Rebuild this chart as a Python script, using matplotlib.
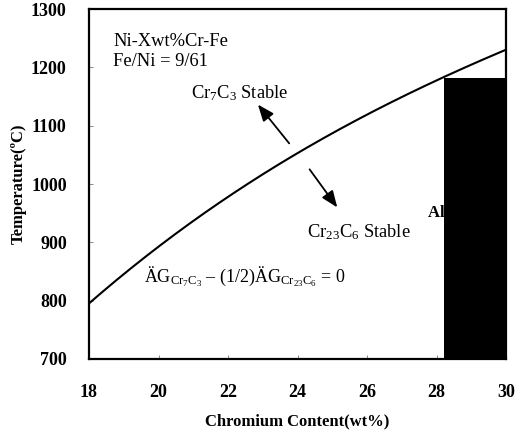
import matplotlib
matplotlib.use("Agg")
import matplotlib.pyplot as plt
import numpy as np

plt.rcParams['font.family'] = ['Liberation Serif', 'DejaVu Serif']
plt.rcParams['mathtext.fontset'] = 'custom'
plt.rcParams['mathtext.rm'] = 'Liberation Serif'
plt.rcParams['mathtext.it'] = 'Liberation Serif'
plt.rcParams['mathtext.bf'] = 'Liberation Serif:bold'

# Equilibrium boundary between Cr7C3 and Cr23C6
chromium = [18, 20, 22, 24, 26, 28, 30]
temperature = [795, 893, 978, 1053, 1118, 1179, 1230]

# Alloy composition band (shaded)
alloy_cr = [28.2, 30.0]
alloy_top = 1181

x_ticks = [18, 20, 22, 24, 26, 28, 30]
y_ticks = [700, 800, 900, 1000, 1100, 1200, 1300]

fig = plt.figure(figsize=(5.25, 4.33), dpi=100)
ax = fig.add_axes([0.1695, 0.171, 0.7945, 0.808])

# smooth the boundary through the read points
xs = np.linspace(18, 30, 200)
coef = np.polyfit(chromium, temperature, 3)
ax.plot(xs, np.polyval(coef, xs), color='black', lw=1.5, zorder=3)

ax.text(27.75, 950, 'Alloy 690', fontsize=12, fontweight='bold',
        va='center', ha='left', zorder=2)
ax.fill_between(alloy_cr, 700, alloy_top, color='black', lw=0, zorder=4)

ax.set_xlim(18, 30)
ax.set_ylim(700, 1300)
ax.set_xticks(x_ticks)
ax.set_yticks(y_ticks)
ax.tick_params(direction='in', length=3, width=0.6, color='#777777',
               labelsize=13)
ax.tick_params(axis='x', pad=18)
ax.tick_params(axis='y', pad=16)
for lab in ax.get_xticklabels() + ax.get_yticklabels():
    lab.set_fontweight('bold')
for s in ax.spines.values():
    s.set_linewidth(1.6)

ax.set_xlabel('Chromium Content(wt%)', fontsize=12, fontweight='bold',
              labelpad=9)
ax.set_ylabel('Temperature(\u00baC)', fontsize=12, fontweight='bold',
              labelpad=3)

ax.text(18.69, 1245, 'Ni-Xwt%Cr-Fe', fontsize=13.3, va='center', ha='left')
ax.text(18.69, 1210, 'Fe/Ni = 9/61', fontsize=13.3, va='center', ha='left')
ax.text(20.94, 1155, r'Cr$_{7}$C$_{3}$ Stable', fontsize=13.3,
        va='center', ha='left')
ax.text(24.27, 918, r'Cr$_{23}$C$_{6}$ Stable', fontsize=13.3,
        va='center', ha='left')
ax.text(19.58, 841,
        '\u00c4G$_{\\mathrm{Cr_7C_3}}$ \u2013 (1/2)\u00c4G$_{\\mathrm{Cr_{23}C_6}}$ = 0',
        fontsize=13, va='center', ha='left')

arrow = dict(arrowstyle='-|>,head_length=1.0,head_width=0.4',
             color='black', lw=1.3)
ax.annotate('', xy=(22.81, 1140), xytext=(23.81, 1066), arrowprops=arrow)
ax.annotate('', xy=(25.19, 956), xytext=(24.30, 1029), arrowprops=arrow)

fig.savefig('out.png', dpi=100)
